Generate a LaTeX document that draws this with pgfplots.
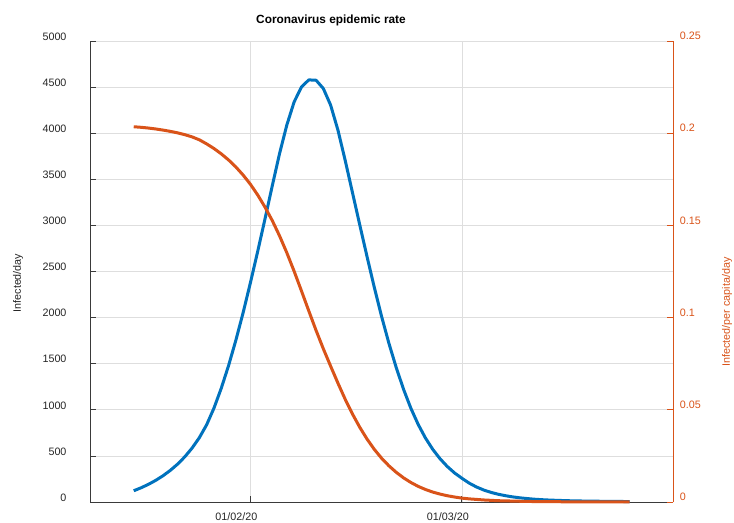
\documentclass[border=0pt]{standalone}
\usepackage{pgfplots}
\pgfplotsset{compat=1.18}
\usepackage{fontspec}
\setmainfont{Liberation Sans}
\definecolor{mblue}{HTML}{0072BD}
\definecolor{morange}{HTML}{D95319}
\definecolor{gridgray}{HTML}{DEDEDE}
\definecolor{axgray}{HTML}{3A3A3A}
\definecolor{txtgray}{HTML}{262626}
\begin{document}
\begin{tikzpicture}
% left axis: infected per day
\begin{axis}[
  at={(90bp,21bp)}, anchor=south west,
  width=583.3bp, height=461bp, scale only axis,
  xmin=-22, xmax=58, ymin=0, ymax=5000,
  xtick={0,29}, xticklabels={01/02/20,01/03/20},
  ytick={0,500,1000,1500,2000,2500,3000,3500,4000,4500,5000},
  axis x line*=bottom, axis y line*=left,
  axis line style={-, color=axgray, line width=0.8bp},
  ymajorgrids, xmajorgrids,
  grid style={color=gridgray, line width=0.7bp},
  tick align=inside, major tick length=6bp,
  tick style={color=axgray, line width=0.8bp},
  scaled y ticks=false,
  /pgf/number format/1000 sep={},
  /pgf/number format/assume math mode=true,
  ticklabel style={font=\fontsize{10.8}{12}\selectfont, text=txtgray},
  yticklabel style={xshift=-20bp, yshift=4.5bp},
  xticklabel style={xshift=-14bp, yshift=-7bp},
  clip=false,
]
\addplot[color=mblue, line width=3bp, line join=round] coordinates {
(-16,122) (-15,154) (-14,191) (-13,234) (-12,284) (-11,342) (-10,410) (-9,490)
(-8,585) (-7,698) (-6,838) (-5,1018) (-4,1233) (-3,1478) (-2,1753) (-1,2053)
(0,2378) (1,2718) (2,3070) (3,3430) (4,3780) (5,4090) (6,4340) (7,4500)
(8,4578) (9,4575) (10,4485) (11,4305) (12,4035) (13,3705) (14,3355) (15,3005)
(16,2660) (17,2325) (18,2010) (19,1720) (20,1458) (21,1223) (22,1018) (23,843)
(24,695) (25,572) (26,470) (27,385) (28,315) (29,258) (30,205) (31,163)
(32,130) (33,104) (34,84) (35,68) (36,55) (37,45) (38,37) (39,30)
(40,25) (41,21) (42,18) (44,13) (46,10) (48,8) (50,6) (52,5)
};
\end{axis}
% right axis: infected per capita per day
\begin{axis}[
  at={(90bp,21bp)}, anchor=south west,
  width=583.3bp, height=461bp, scale only axis,
  xmin=-22, xmax=58, ymin=0, ymax=0.25,
  axis x line=none, axis y line*=right,
  axis line style={-, color=morange, line width=0.8bp},
  ytick={0,0.05,0.1,0.15,0.2,0.25},
  yticklabels={0,0.05,0.1,0.15,0.2,0.25},
  tick align=inside, major tick length=6bp,
  tick style={color=morange, line width=0.8bp},
  ticklabel style={font=\fontsize{10.8}{12}\selectfont, text=morange},
  yticklabel style={xshift=3bp, yshift=5bp},
  clip=false,
]
\addplot[color=morange, line width=3bp, line join=round] coordinates {
(-16,0.2035) (-15,0.2032) (-14,0.2028) (-13,0.2023) (-12,0.2017) (-11,0.2010)
(-10,0.2002) (-9,0.1992) (-8,0.1980) (-7,0.1964) (-6,0.1942) (-5,0.1917)
(-4,0.1888) (-3,0.1855) (-2,0.1817) (-1,0.1773) (0,0.1723) (1,0.1665)
(2,0.1599) (3,0.1526) (4,0.1443) (5,0.1351) (6,0.1251) (7,0.1145)
(8,0.1037) (9,0.0931) (10,0.0831) (11,0.0737) (12,0.0645) (13,0.0557)
(14,0.0477) (15,0.0405) (16,0.0341) (17,0.0285) (18,0.0237) (19,0.0196)
(20,0.0161) (21,0.0131) (22,0.0106) (23,0.0085) (24,0.0068) (25,0.0054)
(26,0.0043) (27,0.0034) (28,0.0027) (29,0.0021) (30,0.0017) (31,0.0014)
(32,0.0011) (34,0.0007) (36,0.0005) (38,0.0003) (40,0.0002) (44,0.0001)
(48,0.0001) (52,0.0000)
};
\end{axis}
\node[font=\fontsize{11.9}{13}\selectfont\bfseries, text=black] at (331bp,503bp) {Coronavirus epidemic rate};
\node[font=\fontsize{10.8}{12}\selectfont, text=txtgray, rotate=90] at (18bp,240bp) {Infected/day};
\node[font=\fontsize{10.8}{12}\selectfont, text=morange, rotate=90] at (727bp,211bp) {Infected/per capita/day};
\pgfresetboundingbox
\useasboundingbox (0bp,0bp) rectangle (734bp,523bp);
\end{tikzpicture}
\end{document}
